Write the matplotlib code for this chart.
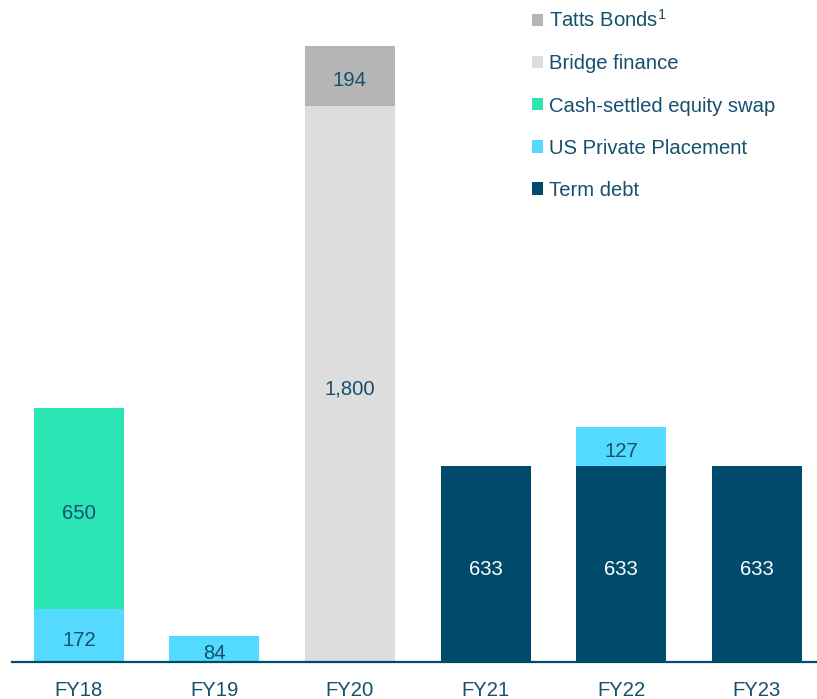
import numpy as np
import matplotlib.pyplot as plt
from matplotlib.patches import Patch

plt.rcParams['font.family'] = ['Liberation Sans', 'DejaVu Sans']
plt.rcParams['mathtext.fontset'] = 'custom'
plt.rcParams['mathtext.rm'] = 'Liberation Sans'

# data ($m)
years = ['FY18', 'FY19', 'FY20', 'FY21', 'FY22', 'FY23']
term_debt = [0, 0, 0, 633, 633, 633]
us_pp = [172, 84, 0, 0, 127, 0]
equity_swap = [650, 0, 0, 0, 0, 0]
bridge = [0, 0, 1800, 0, 0, 0]
tatts = [0, 0, 194, 0, 0, 0]

series = [
    ('Term debt', term_debt, '#004B6B', 'white'),
    ('US Private Placement', us_pp, '#55DAFF', '#17506E'),
    ('Cash-settled equity swap', equity_swap, '#2CE5B5', '#17506E'),
    ('Bridge finance', bridge, '#DDDDDD', '#17506E'),
    ('Tatts Bonds$^{1}$', tatts, '#B5B5B5', '#17506E'),
]
txt_col = '#17506E'
fs = 14.6

fig = plt.figure(figsize=(8.17, 6.99), dpi=100)
ax = fig.add_axes([12/817, 37/699, 805/817, 662/699])

x = np.arange(len(years))
bottom = np.zeros(len(years))
for name, vals, col, lc in series:
    vals = np.array(vals, dtype=float)
    ax.bar(x, vals, 0.664, bottom=bottom, color=col, linewidth=0)
    for xi, v, b in zip(x, vals, bottom):
        if v > 0:
            ax.annotate(f'{int(v):,}', (xi, b + v/2), xytext=(0, -3.5),
                        textcoords='offset points', ha='center', va='center',
                        fontsize=fs, color=lc)
    bottom += vals

ax.set_xlim(-0.494, 5.446)
ax.set_ylim(0, 2143)
ax.set_xticks(x)
ax.set_xticklabels(years, fontsize=fs, color=txt_col)
ax.tick_params(axis='x', length=0, pad=14)
ax.set_yticks([])
for s in ['top', 'left', 'right']:
    ax.spines[s].set_visible(False)
ax.spines['bottom'].set_color('#004B6B')
ax.spines['bottom'].set_linewidth(1.6)

handles = [Patch(facecolor=c, edgecolor='none', label=n) for n, _, c, _ in series[::-1]]
leg = fig.legend(handles=handles, loc='upper left', bbox_to_anchor=(520/817, 1.004),
                 frameon=False, fontsize=fs, handlelength=0.55, handleheight=0.55,
                 handletextpad=0.3, labelspacing=1.14, borderaxespad=0.2)
for t in leg.get_texts():
    t.set_color(txt_col)

fig.savefig('out.png', dpi=100)
